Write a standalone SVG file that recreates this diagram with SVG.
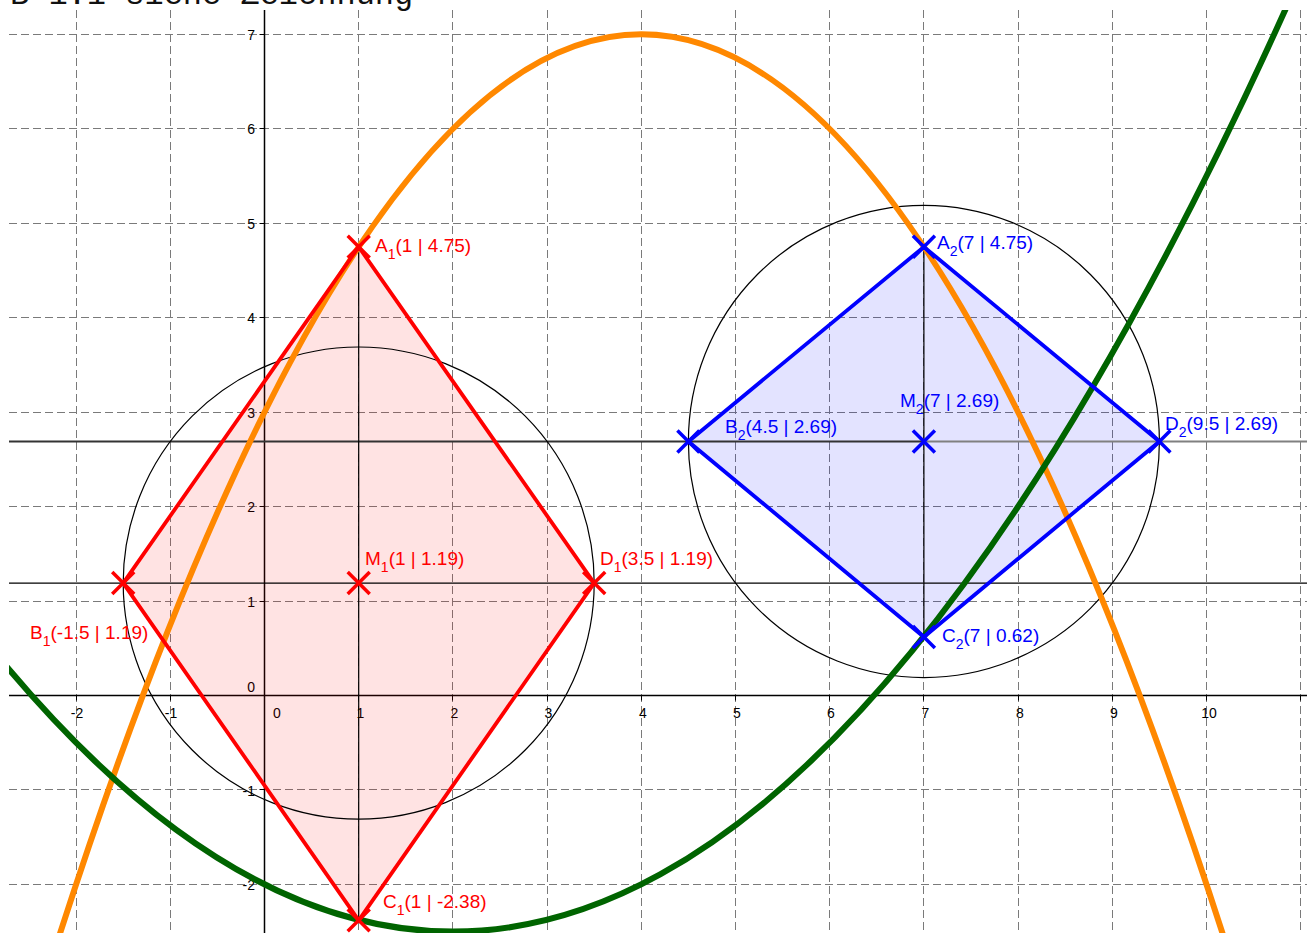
<svg xmlns="http://www.w3.org/2000/svg" width="1307" height="933" viewBox="0 0 1307 933">
<style>
.grid{stroke:#7a7a7a;stroke-width:1;stroke-dasharray:8,4;fill:none}
.ax{stroke:#000;stroke-width:1.5;fill:none}
.thin{stroke:#000;stroke-width:1.2;fill:none}
.tick{font-family:"Liberation Sans",Arial,sans-serif;font-size:14px;fill:#000}
.lbl{font-family:"Liberation Sans",Arial,sans-serif;font-size:19px}
.red{fill:#ff0000}
.blue{fill:#0000ff}
.xr{stroke:#ff0000;stroke-width:3.5;fill:none}
.xb{stroke:#0000ff;stroke-width:3.5;fill:none}
.sub{font-size:14px}
</style>
<defs>
<clipPath id="plot"><rect x="9" y="10" width="1298" height="923"/></clipPath>
</defs>
<rect x="0" y="0" width="1307" height="933" fill="#fff"/>
<text x="10" y="4" font-family="'Liberation Mono',monospace" font-size="32" fill="#111">B 1.1 siehe Zeichnung</text>
<g clip-path="url(#plot)">
<g id="grid" class="grid">
<path d="M76.5 10V933M170.5 10V933M264.5 10V933M358.5 10V933M452.5 10V933M547.5 10V933M641.5 10V933M735.5 10V933M829.5 10V933M923.5 10V933M1018.5 10V933M1112.5 10V933M1206.5 10V933M1300.5 10V933"/>
<path d="M9 34.5H1307M9 128.5H1307M9 223.5H1307M9 317.5H1307M9 412.5H1307M9 506.5H1307M9 601.5H1307M9 789.5H1307M9 884.5H1307"/>
</g>
<g id="axes">
<path class="ax" d="M9 695.5H1307M264.5 10V933"/>
<path stroke="#000" stroke-width="1" d="M259.5 34.5h5M259.5 128.5h5M259.5 223.5h5M259.5 317.5h5M259.5 412.5h5M259.5 506.5h5M259.5 601.5h5M259.5 789.5h5M259.5 884.5h5M76.5 695.5v5M170.5 695.5v5M358.5 695.5v5M452.5 695.5v5M547.5 695.5v5M641.5 695.5v5M735.5 695.5v5M829.5 695.5v5M923.5 695.5v5M1018.5 695.5v5M1112.5 695.5v5M1206.5 695.5v5M1300.5 695.5v5"/>
<g class="tick" text-anchor="end">
<text x="255" y="39.9">7</text><text x="255" y="134.3">6</text><text x="255" y="228.8">5</text><text x="255" y="323.2">4</text><text x="255" y="417.7">3</text><text x="255" y="512.1">2</text><text x="255" y="606.6">1</text><text x="255" y="691.5">0</text><text x="255" y="795.5">-1</text><text x="255" y="889.9">-2</text>
</g>
<g class="tick" text-anchor="middle">
<text x="77" y="717.7">-2</text><text x="171" y="717.7">-1</text><text x="277" y="717.7">0</text><text x="360.5" y="717.7">1</text><text x="454.5" y="717.7">2</text><text x="548.5" y="717.7">3</text><text x="643" y="717.7">4</text><text x="737" y="717.7">5</text><text x="831" y="717.7">6</text><text x="925.5" y="717.7">7</text><text x="1020" y="717.7">8</text><text x="1114" y="717.7">9</text><text x="1209" y="717.7">10</text>
</g>
</g>
<g id="fills">
<polygon points="358.7,246.86 123.2,583.1 358.7,920.3 594.2,583.1" fill="#ff0000" fill-opacity="0.11"/>
<polygon points="923.9,246.86 688.4,441.43 923.9,636.94 1159.4,441.43" fill="#0000ff" fill-opacity="0.11"/>
</g>
<g id="lines">
<path class="thin" d="M9 583.1H1307"/>
<path stroke="#333" stroke-width="2" d="M9 441.43H923.9"/>
<path stroke="#808080" stroke-width="2" d="M923.9 441.43H1307"/>
<path class="thin" d="M358.7 246.86V920.3M923.9 246.86V636.94"/>
<ellipse class="thin" cx="358.7" cy="583.1" rx="235.5" ry="236.1"/>
<ellipse class="thin" cx="923.9" cy="441.43" rx="235.5" ry="236.1"/>
</g>
<g id="curves" fill="none" stroke-width="6">
<path id="f" stroke="#ff8800" d="M47.84 971.53Q641.3 -902.83 1234.76 971.53"/>
<path id="g" stroke="#006400" d="M0.74 659.61Q660.14 1452.99 1319.54 -67.66"/>
</g>
<g id="connectors" fill="none" stroke-width="3.8" stroke-linejoin="round">
<polygon points="358.7,246.86 123.2,583.1 358.7,920.3 594.2,583.1" stroke="#ff0000"/>
<polygon points="923.9,246.86 688.4,441.43 923.9,636.94 1159.4,441.43" stroke="#0000ff"/>
</g>
<g id="A1"><path class="xr" d="M347.7 235.86l22 22M347.7 257.86l22 -22"/><text class="lbl red" x="375" y="252">A<tspan class="sub" dy="7">1</tspan><tspan dy="-7">(1 | 4.75)</tspan></text></g>
<g id="B1"><path class="xr" d="M112.2 572.1l22 22M112.2 594.1l22 -22"/><text class="lbl red" x="30" y="639">B<tspan class="sub" dy="7">1</tspan><tspan dy="-7">(-1.5 | 1.19)</tspan></text></g>
<g id="C1"><path class="xr" d="M347.7 909.3l22 22M347.7 931.3l22 -22"/><text class="lbl red" x="383" y="908">C<tspan class="sub" dy="7">1</tspan><tspan dy="-7">(1 | -2.38)</tspan></text></g>
<g id="D1"><path class="xr" d="M583.2 572.1l22 22M583.2 594.1l22 -22"/><text class="lbl red" x="600" y="565">D<tspan class="sub" dy="7">1</tspan><tspan dy="-7">(3.5 | 1.19)</tspan></text></g>
<g id="M1"><path class="xr" d="M347.7 572.1l22 22M347.7 594.1l22 -22"/><text class="lbl red" x="365" y="565">M<tspan class="sub" dy="7">1</tspan><tspan dy="-7">(1 | 1.19)</tspan></text></g>
<g id="A2"><path class="xb" d="M912.9 235.86l22 22M912.9 257.86l22 -22"/><text class="lbl blue" x="937" y="249">A<tspan class="sub" dy="7">2</tspan><tspan dy="-7">(7 | 4.75)</tspan></text></g>
<g id="B2"><path class="xb" d="M677.4 430.43l22 22M677.4 452.43l22 -22"/><text class="lbl blue" x="725" y="432.5">B<tspan class="sub" dy="7">2</tspan><tspan dy="-7">(4.5 | 2.69)</tspan></text></g>
<g id="C2"><path class="xb" d="M912.9 625.94l22 22M912.9 647.94l22 -22"/><text class="lbl blue" x="942" y="642">C<tspan class="sub" dy="7">2</tspan><tspan dy="-7">(7 | 0.62)</tspan></text></g>
<g id="D2"><path class="xb" d="M1148.4 430.43l22 22M1148.4 452.43l22 -22"/><text class="lbl blue" x="1165" y="430">D<tspan class="sub" dy="7">2</tspan><tspan dy="-7">(9.5 | 2.69)</tspan></text></g>
<g id="M2"><path class="xb" d="M912.9 430.43l22 22M912.9 452.43l22 -22"/><text class="lbl blue" x="900" y="406.5">M<tspan class="sub" dy="7">2</tspan><tspan dy="-7">(7 | 2.69)</tspan></text></g>
</g>
</svg>
